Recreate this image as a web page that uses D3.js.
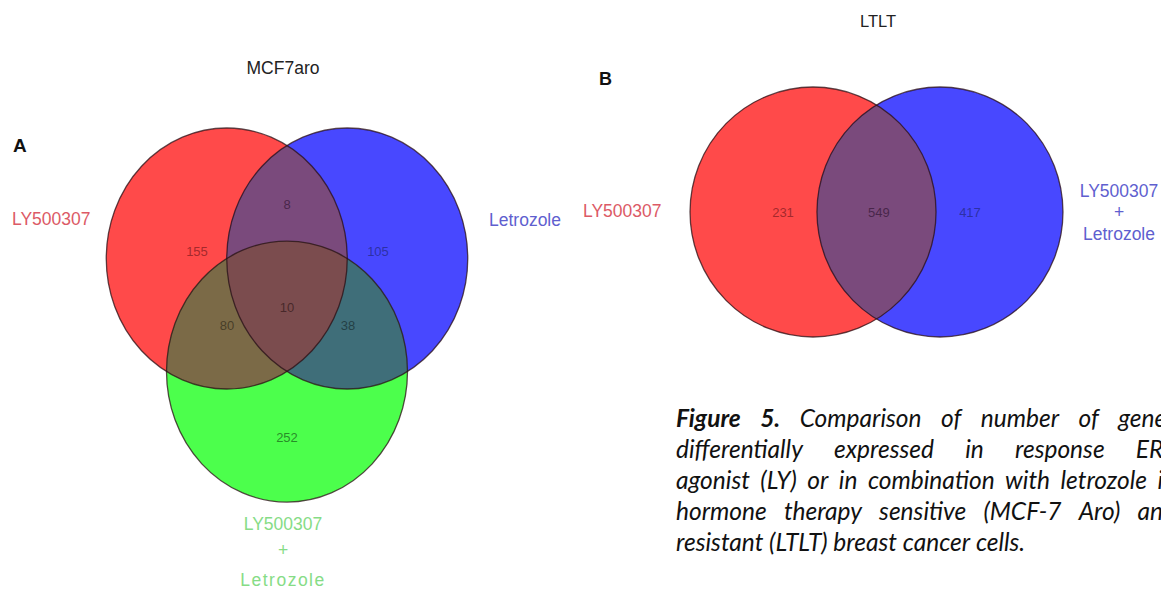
<!DOCTYPE html>
<html>
<head>
<meta charset="utf-8">
<script src="https://cdn.jsdelivr.net/npm/d3@7"></script>
<style>
  html, body { margin: 0; padding: 0; background: #fff; }
  svg { display: block; }
</style>
</head>
<body>
<svg id="fig" width="1161" height="590"></svg>
<script>
// ---------- Panel A: MCF7aro (three sets) ----------
const setNamesA = ["LY500307", "Letrozole", "LY500307 + Letrozole"];
const regionKeysA = ["R", "B", "G", "RB", "RG", "BG", "RBG"];
const regionCountsA = [155, 105, 252, 8, 80, 38, 10];

// ---------- Panel B: LTLT (two sets) ----------
const setNamesB = ["LY500307", "LY500307 + Letrozole"];
const regionKeysB = ["R", "B", "RB"];
const regionCountsB = [231, 417, 549];

// Caption text, one entry per printed line
const captionLines = [
  [["Figure", true], ["5.", true], ["Comparison", false], ["of", false], ["number", false], ["of", false], ["genes", false]],
  [["differentially", false], ["expressed", false], ["in", false], ["response", false], ["ERβ", false]],
  [["agonist", false], ["(LY)", false], ["or", false], ["in", false], ["combination", false], ["with", false], ["letrozole", false], ["in", false]],
  [["hormone", false], ["therapy", false], ["sensitive", false], ["(MCF-7", false], ["Aro)", false], ["and", false]],
  [["resistant", false], ["(LTLT)", false], ["breast", false], ["cancer", false], ["cells.", false]]
];

// ---------- layout (unit space: circle radius = 1) ----------
const layoutA = {
  cx: 287, cy: 296.2, rx: 120.5, ry: 130.5,
  centers: { R: [-0.5, -0.2887], B: [0.5, -0.2887], G: [0, 0.5774] },
  labels: { R: [-0.747, -0.346], B: [0.755, -0.346], G: [0, 1.086],
            RB: [0, -0.699], RG: [-0.498, 0.221], BG: [0.506, 0.221], RBG: [0, 0.083] }
};
const layoutB = {
  cx: 876.5, cy: 212, rx: 123, ry: 125,
  centers: { R: [-0.516, 0], B: [0.516, 0] },
  labels: { R: [-0.76, 0], B: [0.76, 0], RB: [0.02, 0] }
};

const regionFill = {
  R: "#ff4a4a", B: "#4848ff", G: "#4cff4c",
  RB: "#7a4a7c", RG: "#7b6a47", BG: "#3f6e79", RBG: "#7b4c4e"
};
const labelFill = {
  R: "#8c2024", B: "#262a8c", G: "#1f6e1f",
  RB: "#3a1c3c", RG: "#3a3220", BG: "#1c3438", RBG: "#3a1e20"
};

const svg = d3.select("#fig");
const defs = svg.append("defs");

function drawVenn(prefix, layout, keys, counts) {
  const x = d3.scaleLinear().domain([-1, 1]).range([layout.cx - layout.rx, layout.cx + layout.rx]);
  const y = d3.scaleLinear().domain([-1, 1]).range([layout.cy - layout.ry, layout.cy + layout.ry]);
  const rx = x(1) - x(0), ry = y(1) - y(0);
  const sets = Object.keys(layout.centers);

  // one clip path per set ellipse
  sets.forEach(s => {
    defs.append("clipPath").attr("id", prefix + s)
      .append("ellipse")
      .attr("cx", x(layout.centers[s][0])).attr("cy", y(layout.centers[s][1]))
      .attr("rx", rx).attr("ry", ry);
  });

  const g = svg.append("g");
  // regions painted from single sets up to the full intersection
  const order = keys.slice().sort((a, b) => a.length - b.length);
  order.forEach(key => {
    const members = key.split("");
    let parent = g;
    members.slice(1).forEach(m => {
      parent = parent.append("g").attr("clip-path", `url(#${prefix}${m})`);
    });
    const c = layout.centers[members[0]];
    parent.append("ellipse")
      .attr("cx", x(c[0])).attr("cy", y(c[1]))
      .attr("rx", rx).attr("ry", ry)
      .attr("fill", regionFill[key]);
  });

  // outlines
  g.selectAll("ellipse.outline").data(sets).join("ellipse")
    .attr("class", "outline")
    .attr("cx", s => x(layout.centers[s][0])).attr("cy", s => y(layout.centers[s][1]))
    .attr("rx", rx).attr("ry", ry)
    .attr("fill", "none").attr("stroke", "#2a0f14").attr("stroke-opacity", 0.75)
    .attr("stroke-width", 1.3);

  // region counts
  g.selectAll("text.count").data(keys.map((k, i) => ({ k, v: counts[i] }))).join("text")
    .attr("class", "count")
    .attr("x", d => x(layout.labels[d.k][0]))
    .attr("y", d => y(layout.labels[d.k][1]))
    .attr("text-anchor", "middle").attr("dominant-baseline", "central")
    .attr("font-family", "'Liberation Sans Narrow', 'Liberation Sans', sans-serif")
    .attr("font-size", 13).attr("fill", d => labelFill[d.k]).attr("fill-opacity", 0.8)
    .text(d => d.v);
}

drawVenn("vennA-", layoutA, regionKeysA, regionCountsA);
drawVenn("vennB-", layoutB, regionKeysB, regionCountsB);

// ---------- titles and panel letters ----------
const sans = "'Liberation Sans', Arial, sans-serif";
svg.append("text").attr("x", 283).attr("y", 74).attr("text-anchor", "middle")
  .attr("font-family", sans).attr("font-size", 17.5).attr("fill", "#222").text("MCF7aro");
svg.append("text").attr("x", 878).attr("y", 27).attr("text-anchor", "middle")
  .attr("font-family", sans).attr("font-size", 16.5).attr("fill", "#222").text("LTLT");
svg.append("text").attr("x", 13).attr("y", 152)
  .attr("font-family", sans).attr("font-weight", "bold").attr("font-size", 19).attr("fill", "#111").text("A");
svg.append("text").attr("x", 599).attr("y", 85)
  .attr("font-family", sans).attr("font-weight", "bold").attr("font-size", 18).attr("fill", "#111").text("B");

// ---------- set names ----------
function setLabel(lines, xPos, baselines, color, anchor, spacing) {
  const t = svg.append("text").attr("font-family", sans).attr("font-size", 17.5)
    .attr("fill", color).attr("text-anchor", anchor);
  lines.forEach((line, i) => {
    t.append("tspan").attr("x", xPos).attr("y", baselines[i])
      .attr("letter-spacing", spacing ? spacing[i] : 0).text(line);
  });
}
const pink = "#dc5a66", violet = "#5f5fcf", mint = "#86dc86";
setLabel([setNamesA[0]], 12, [225], pink, "start");
setLabel([setNamesA[1]], 489, [226], violet, "start");
setLabel(setNamesA[2].split(" "), 283, [530, 556, 586], mint, "middle", [0, 0, 1.5]);
setLabel([setNamesB[0]], 583, [217], pink, "start");
setLabel(setNamesB[1].split(" "), 1119, [197, 218, 240], violet, "middle");

// ---------- caption (justified) ----------
const capX = 676, capRight = 1176, capLead = 31, capTop = 427;
const capFont = "Lato, 'Open Sans', sans-serif", capSize = 24.5;
const measurer = svg.append("text").attr("font-family", capFont).attr("font-size", capSize)
  .attr("font-style", "italic").attr("visibility", "hidden");
function wordWidth(w, bold) {
  measurer.attr("font-weight", bold ? "bold" : "normal").text(w);
  return measurer.node().getComputedTextLength();
}
const spaceW = wordWidth("a a", false) - 2 * wordWidth("a", false);
const cap = svg.append("text").attr("font-family", capFont).attr("font-size", capSize)
  .attr("font-style", "italic").attr("fill", "#111");
captionLines.forEach((words, li) => {
  const widths = words.map(([w, b]) => wordWidth(w, b));
  const total = d3.sum(widths);
  const last = li === captionLines.length - 1;
  const gap = last ? spaceW : (capRight - capX - total) / (words.length - 1);
  let cx = capX;
  words.forEach(([w, b], wi) => {
    cap.append("tspan").attr("x", cx).attr("y", capTop + li * capLead)
      .attr("font-weight", b ? "bold" : "normal").text(w);
    cx += widths[wi] + gap;
  });
});
measurer.remove();
</script>
</body>
</html>
